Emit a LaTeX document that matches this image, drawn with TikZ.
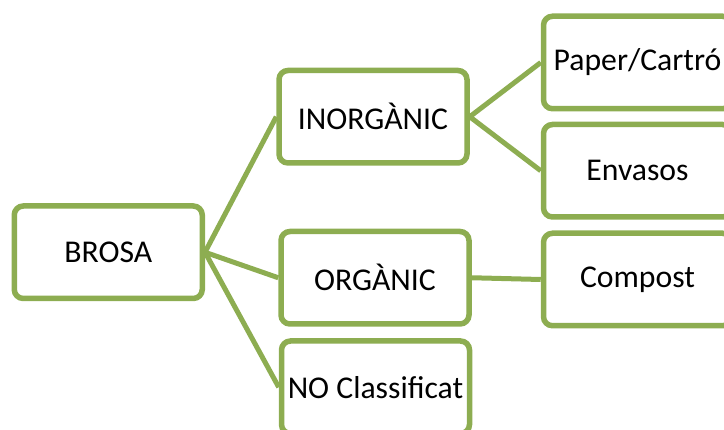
\documentclass[tikz,border=0pt]{standalone}
\usepackage{fontspec}
\setmainfont{Carlito}
\definecolor{boxgreen}{HTML}{8DAD51}
\begin{document}
\begin{tikzpicture}[x=1pt,y=-1pt,
  box/.style={draw=boxgreen, line width=5.5pt, rounded corners=9pt, fill=white,
    minimum width=188pt, minimum height=92.5pt, inner sep=0pt,
    font=\fontsize{31.7}{38}\selectfont},
  link/.style={draw=boxgreen, line width=5pt}]
\useasboundingbox (0,0) rectangle (724,430);
\clip (0,0) rectangle (724,430);
\node[box] (brosa) at (108.25,252.25) {BROSA};
\node[box] (inorg) at (373,116.75) {INORGÀNIC};
\node[box] (org) at (375,277.75) {ORGÀNIC};
\node[box] (nocl) at (375.5,387.25) {NO Classificat};
\node[box] (paper) at (637.5,62.5) {Paper/Cartró};
\node[box] (envas) at (637.5,170.75) {Envasos};
\node[box] (comp) at (637.5,279.5) {Compost};
\draw[link] (brosa.east) -- (inorg.west);
\draw[link] (brosa.east) -- (org.west);
\draw[link] (brosa.east) -- (nocl.west);
\draw[link] (inorg.east) -- (paper.west);
\draw[link] (inorg.east) -- (envas.west);
\draw[link] (org.east) -- (comp.west);
\end{tikzpicture}
\end{document}
